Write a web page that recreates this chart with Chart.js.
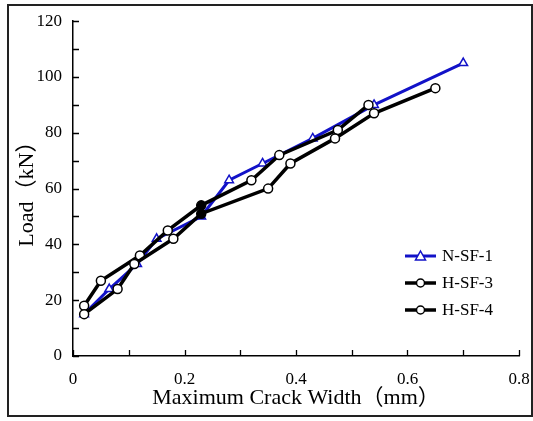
<!DOCTYPE html>
<html>
<head>
<meta charset="utf-8">
<script src="https://cdn.jsdelivr.net/npm/chart.js@4/dist/chart.umd.min.js"></script>
<style>
  html, body { margin: 0; padding: 0; background: #fff; }
  #wrap { width: 533px; height: 421px; }
</style>
</head>
<body>
<div id="wrap"><canvas id="myChart" width="533" height="421"></canvas></div>
<script>
// Crack width (mm) and load (kN) for each specimen
const crackN1 = [0.02, 0.065, 0.115, 0.15, 0.23, 0.28, 0.34, 0.43, 0.54, 0.70];
const loadN1 = [15, 24, 33, 42, 50, 63, 69, 78, 90, 105];

const crackH3 = [0.02, 0.05, 0.12, 0.17, 0.23, 0.32, 0.37, 0.475, 0.53];
const loadH3 = [18, 27, 36, 45, 54, 63, 72, 81, 90];

const crackH4 = [0.02, 0.08, 0.11, 0.18, 0.23, 0.35, 0.39, 0.47, 0.54, 0.65];
const loadH4 = [15, 24, 33, 42, 51, 60, 69, 78, 87, 96];

const seriesNames = ['N-SF-1', 'H-SF-3', 'H-SF-4'];
const xLabels = ['0', '0.2', '0.4', '0.6', '0.8'];
const yLabels = ['0', '20', '40', '60', '80', '100', '120'];

const serif = "'Liberation Serif', 'Times New Roman', 'Noto Sans CJK SC', serif";
const blue = '#1212c8';

function toPoints(xs, ys) {
    return xs.map((x, i) => ({ x: x, y: ys[i] }));
}

// the point at 0.23 mm is drawn filled
function fillAt(xs, color) {
    return xs.map(x => (x === 0.23 ? color : '#ffffff'));
}

// frame around the figure, inward tick marks and the legend
const decorPlugin = {
    id: 'decor',
    afterDraw(chart) {
        const ctx = chart.ctx;
        const xs = chart.scales.x;
        const ys = chart.scales.y;
        ctx.save();

        ctx.strokeStyle = '#222';
        ctx.lineWidth = 2;
        ctx.strokeRect(8, 5, 524, 411);

        ctx.strokeStyle = '#000';
        ctx.lineWidth = 1.3;
        ctx.beginPath();
        ys.ticks.forEach(t => {
            const py = Math.round(ys.getPixelForValue(t.value)) + 0.5;
            ctx.moveTo(xs.left, py);
            ctx.lineTo(xs.left + 6, py);
        });
        xs.ticks.forEach(t => {
            const px = Math.round(xs.getPixelForValue(t.value)) + 0.5;
            ctx.moveTo(px, ys.bottom);
            ctx.lineTo(px, ys.bottom - 6);
        });
        ctx.stroke();

        // legend
        ctx.font = '17px ' + serif;
        ctx.textBaseline = 'middle';
        ctx.fillStyle = '#000';
        chart.data.datasets.forEach((ds, i) => {
            const rowY = 256 + i * 27;
            ctx.strokeStyle = ds.borderColor;
            ctx.lineWidth = ds.borderWidth;
            ctx.beginPath();
            ctx.moveTo(405, rowY);
            ctx.lineTo(436, rowY);
            ctx.stroke();
            ctx.lineWidth = 1.5;
            ctx.fillStyle = '#fff';
            ctx.beginPath();
            if (ds.pointStyle === 'triangle') {
                ctx.moveTo(420.5, rowY - 5);
                ctx.lineTo(425.5, rowY + 4);
                ctx.lineTo(415.5, rowY + 4);
                ctx.closePath();
            } else {
                ctx.arc(420.5, rowY, 4, 0, Math.PI * 2);
            }
            ctx.fill();
            ctx.stroke();
            ctx.fillStyle = '#000';
            ctx.fillText(ds.label, 442, rowY + 1);
        });
        ctx.restore();
    }
};

const ctx = document.getElementById('myChart').getContext('2d');
const myChart = new Chart(ctx, {
    type: 'scatter',
    data: {
        datasets: [
            {
                label: seriesNames[0],
                data: toPoints(crackN1, loadN1),
                showLine: true,
                borderColor: blue,
                borderWidth: 3,
                pointStyle: 'triangle',
                pointRadius: 5,
                pointBorderWidth: 1.5,
                pointBorderColor: blue,
                pointBackgroundColor: fillAt(crackN1, blue),
                order: 3
            },
            {
                label: seriesNames[1],
                data: toPoints(crackH3, loadH3),
                showLine: true,
                borderColor: '#000',
                borderWidth: 3.5,
                pointStyle: 'circle',
                pointRadius: 4.5,
                pointBorderWidth: 1.5,
                pointBorderColor: '#000',
                pointBackgroundColor: fillAt(crackH3, '#000'),
                order: 2
            },
            {
                label: seriesNames[2],
                data: toPoints(crackH4, loadH4),
                showLine: true,
                borderColor: '#000',
                borderWidth: 3.5,
                pointStyle: 'circle',
                pointRadius: 4.5,
                pointBorderWidth: 1.5,
                pointBorderColor: '#000',
                pointBackgroundColor: fillAt(crackH4, '#000'),
                order: 1
            }
        ]
    },
    options: {
        responsive: false,
        animation: false,
        clip: false,
        layout: { padding: { top: 18, right: 14, left: 0, bottom: 0 } },
        plugins: {
            legend: { display: false },
            tooltip: { enabled: false }
        },
        scales: {
            x: {
                type: 'linear',
                min: 0,
                max: 0.8,
                afterFit: s => {
                    s.height = 65;
                    s.paddingLeft = 0;
                    s.paddingRight = 0;
                },
                grid: { display: false, drawTicks: false },
                border: { display: true, color: '#000', width: 1.5 },
                ticks: {
                    stepSize: 0.1,
                    autoSkip: false,
                    maxRotation: 0,
                    padding: 13,
                    color: '#000',
                    font: { family: serif, size: 17 },
                    callback: v => {
                        const k = Math.round(v * 10);
                        return k % 2 === 0 ? xLabels[k / 2] : '';
                    }
                },
                title: {
                    display: true,
                    text: 'Maximum Crack Width（mm）',
                    color: '#000',
                    font: { family: serif, size: 22 },
                    padding: { top: 0, bottom: 10 }
                }
            },
            y: {
                min: 0,
                max: 120,
                afterFit: s => { s.width = 73; },
                grid: { display: false, drawTicks: false },
                border: { display: true, color: '#000', width: 1.5 },
                ticks: {
                    stepSize: 10,
                    autoSkip: false,
                    padding: 11,
                    color: '#000',
                    font: { family: serif, size: 17 },
                    callback: v => (v % 20 === 0 ? yLabels[v / 20] : '')
                },
                title: {
                    display: true,
                    text: 'Load（kN）',
                    color: '#000',
                    font: { family: serif, size: 22 },
                    padding: { top: 14, bottom: 0 }
                }
            }
        }
    },
    plugins: [decorPlugin]
});
</script>
</body>
</html>
